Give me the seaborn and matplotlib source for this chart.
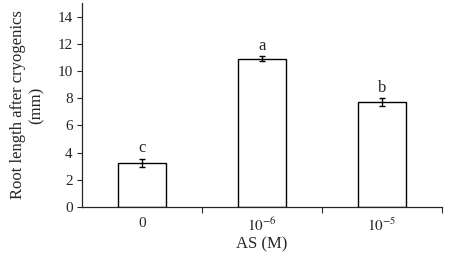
import matplotlib
matplotlib.use("Agg")
import matplotlib.pyplot as plt
import pandas as pd
import seaborn as sns
from matplotlib.ticker import FixedLocator

# Data
categories = ["0", "1e-6", "1e-5"]
tick_labels = ["0", "$10^{-6}$", "$10^{-5}$"]
root_length = [3.25, 10.9, 7.7]
errors = [0.28, 0.18, 0.28]
letters = ["c", "a", "b"]

sns.set_style("ticks")
plt.rcParams["font.family"] = ["Liberation Serif", "DejaVu Serif"]
plt.rcParams["mathtext.fontset"] = "stix"

df = pd.DataFrame({"AS": categories, "length": root_length})

fig = plt.figure(figsize=(4.5, 2.64), dpi=100)
ax = fig.add_axes([0.182, 0.216, 0.8, 0.773])

sns.barplot(data=df, x="AS", y="length", order=categories, color="white",
            edgecolor="black", linewidth=1.0, width=0.4, errorbar=None,
            saturation=1, ax=ax)
ax.errorbar(range(len(categories)), root_length, yerr=errors, fmt="none",
            ecolor="black", elinewidth=1.0, capsize=2.5, capthick=1.0)

for i, (v, e, lab) in enumerate(zip(root_length, errors, letters)):
    ax.text(i, v + e + 0.2, lab, ha="center", va="bottom", fontsize=12)

ax.set_xlim(-0.5, 2.5)
ax.set_ylim(0, 15)
ax.set_yticks(range(0, 15, 2))
ax.tick_params(axis="y", labelsize=11, length=3.5, width=0.8, direction="out", pad=3)

# category ticks: labels centred, tick marks on the boundaries
ax.set_xticks(range(len(categories)))
ax.set_xticklabels(tick_labels, fontsize=11)
ax.tick_params(axis="x", which="major", length=0, pad=7)
ax.xaxis.set_minor_locator(FixedLocator([0.5, 1.5, 2.5]))
ax.tick_params(axis="x", which="minor", length=4, width=0.8, direction="out")

ax.set_xlabel("AS (M)", fontsize=12, labelpad=1.5)
ax.set_ylabel("Root length after cryogenics\n(mm)", fontsize=12, labelpad=9,
              linespacing=1.25)

for s in ["top", "right"]:
    ax.spines[s].set_visible(False)
for s in ["left", "bottom"]:
    ax.spines[s].set_linewidth(0.9)

fig.savefig("out.png", dpi=100)
